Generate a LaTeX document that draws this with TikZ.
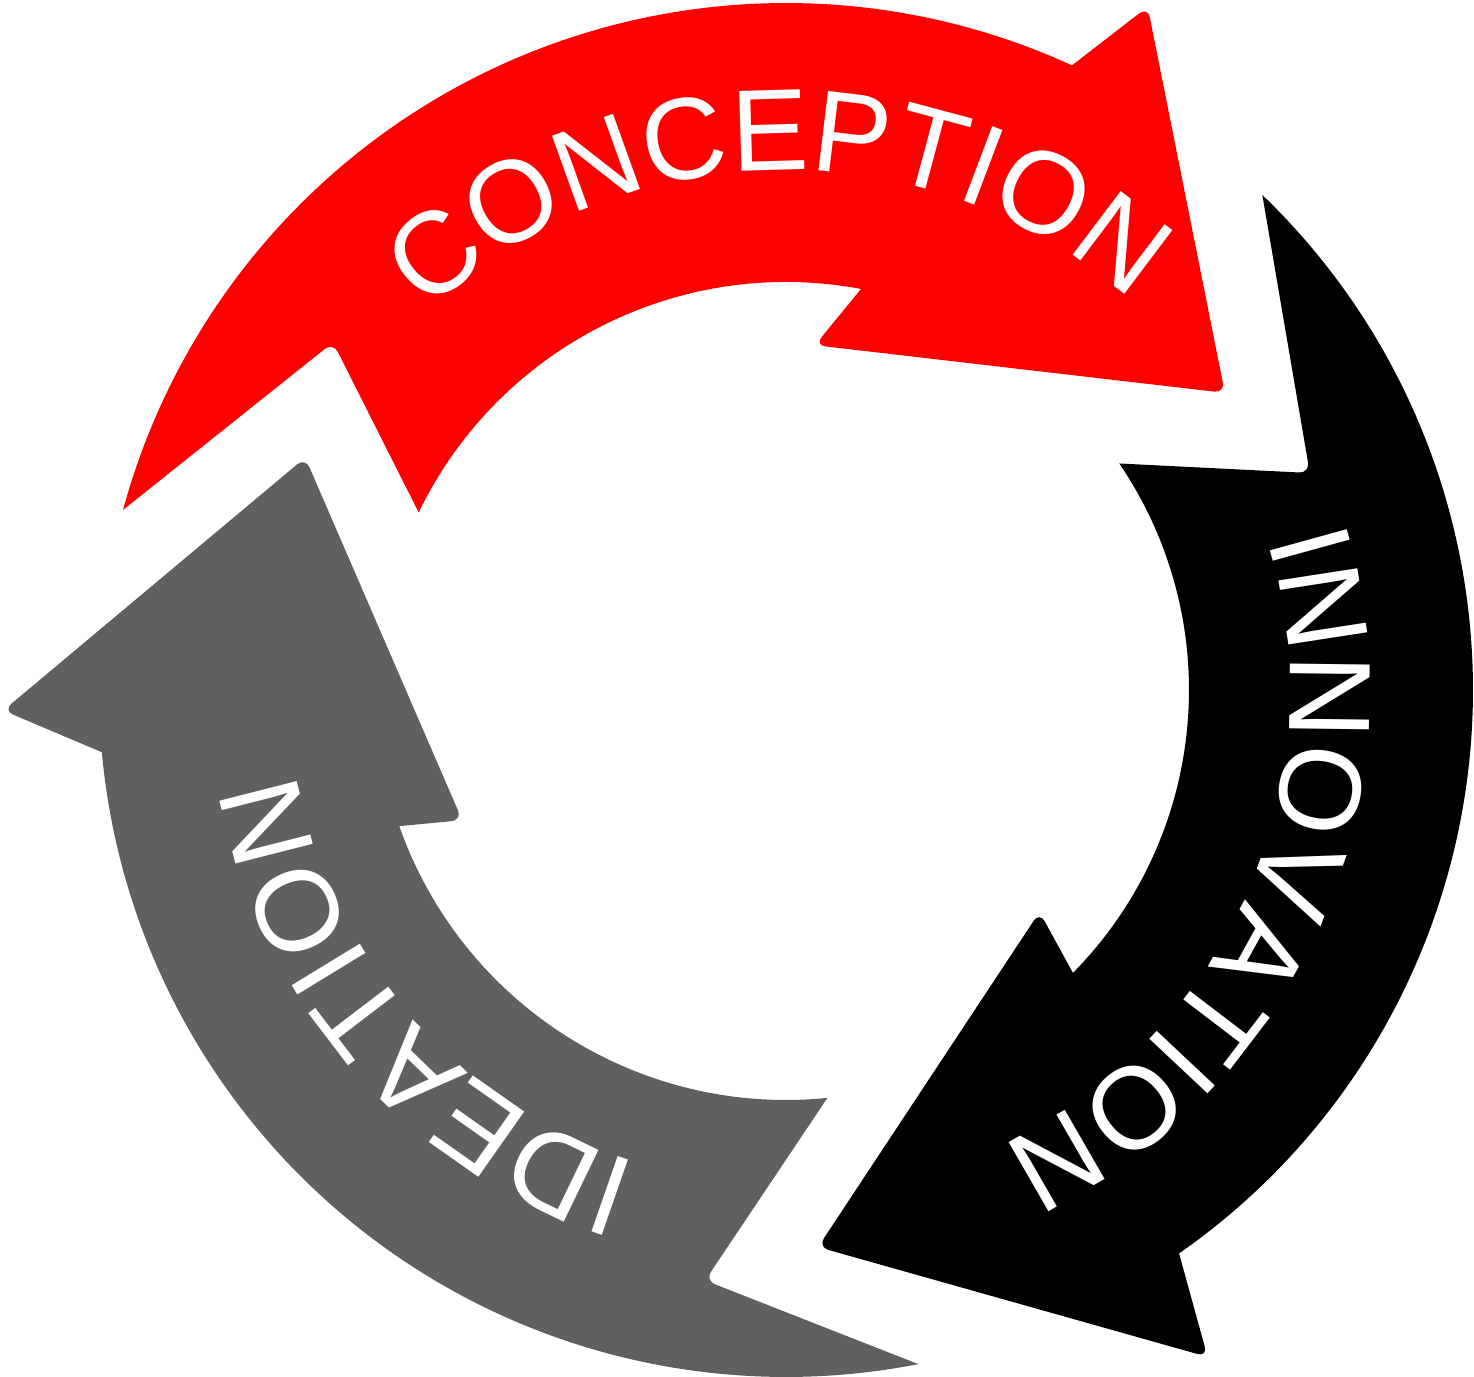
\documentclass[tikz,border=0pt]{standalone}
\usepackage{fontspec}
\usepackage{tikz}
\usetikzlibrary{decorations.text}
\newfontfamily\stagefont{Liberation Sans}
\newcommand\stagestyle{\stagefont\fontsize{33pt}{33pt}\selectfont}
\definecolor{ideagray}{RGB}{96,96,96}
\tikzset{stage label/.style={decorate, decoration={text along path, text align=center, text color=white, text={|\stagestyle|#1}}}}

\begin{document}
\begin{tikzpicture}
	\useasboundingbox (0, 0) rectangle (14.74, 13.77);
	\begin{scope}[shift={(7.86, 6.87)}]
		%%%%% ARROWS %%%%%
		
		% conception (top)
		\fill[red] (164.8:6.87) [rounded corners=3pt] -- (142.5:5.71) [sharp corners] -- (154.2:4.08)
			arc[start angle=154.2, end angle=79.4, radius=4.08] [rounded corners=3pt] -- (85.2:3.46) -- (34.1:5.30) -- (62.1:7.73) [sharp corners] -- (65.4:6.87)
			arc[start angle=65.4, end angle=164.8, radius=6.87] -- cycle;
		
		% innovation (right)
		\fill[black] (46.1:6.87) [rounded corners=3pt] -- (22.5:5.67) [sharp corners] -- (34.2:4.03)
			arc[start angle=34.2, end angle=-44.6, radius=4.03] [rounded corners=3pt] -- (-41.2:3.37) -- (-86.7:5.58) -- (-57.7:7.89) [sharp corners] -- (-55.1:6.87)
			arc[start angle=-55.1, end angle=46.1, radius=6.87] -- cycle;
		
		% ideation (left)
		\fill[ideagray] (-78.9:6.87) [rounded corners=3pt] -- (-97.8:5.96) [sharp corners] -- (-84.2:4.10)
			arc[start angle=-84.2, end angle=-160.6, radius=4.10] [rounded corners=3pt] -- (-158.1:3.49) -- (154.2:5.34) -- (-178.5:7.83) [sharp corners] -- (-174.8:6.87)
			arc[start angle=-174.8, end angle=-78.9, radius=6.87] -- cycle;
		
		%%%%% LABELS %%%%%
		
		\path[stage label=CONCEPTION] (140.95:5.20) arc[start angle=140.95, end angle=40.95, radius=5.20];
		\path[stage label=INNOVATION] (26.2:5.04) arc[start angle=26.2, end angle=-73.8, radius=5.04];
		\path[stage label=IDEATION] (271.1:4.96) arc[start angle=271.1, end angle=171.1, radius=4.96];
	\end{scope}
\end{tikzpicture}
\end{document}
